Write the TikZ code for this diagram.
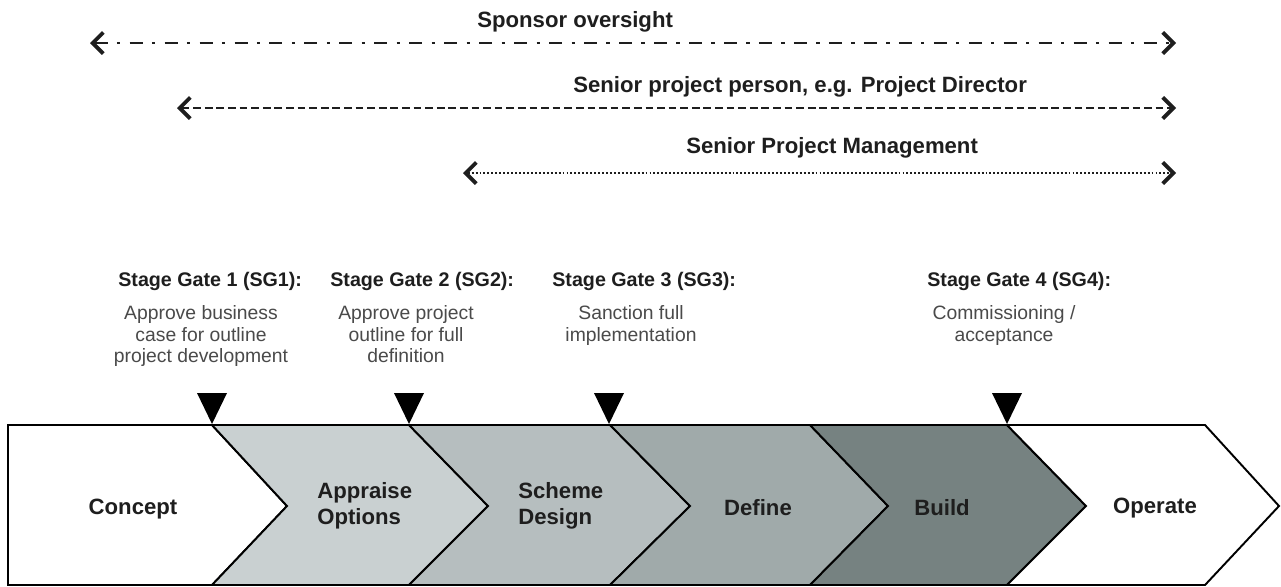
\documentclass[tikz,border=0pt]{standalone}
\usepackage{fontspec}
\setmainfont{Liberation Sans}
\usetikzlibrary{arrows.meta}
\definecolor{txt}{HTML}{1E1E1E}
\definecolor{desc}{HTML}{4A4A4A}
\definecolor{cAppraise}{RGB}{201,208,209}
\definecolor{cScheme}{RGB}{182,190,191}
\definecolor{cDefine}{RGB}{160,170,170}
\definecolor{cBuild}{RGB}{118,130,129}
\tikzset{
  spantip/.style={{Straight Barb[length=6pt,width=12pt,line width=2.2pt]}-{Straight Barb[length=6pt,width=12pt,line width=2.2pt]}},
  spanline/.style={spantip, line width=1.6pt, color=txt},
  toplabel/.style={font=\fontsize{12.6}{15}\selectfont\bfseries, text=txt, inner sep=0pt, anchor=west},
  gatehead/.style={font=\fontsize{11.2}{13}\selectfont\bfseries, text=txt, inner sep=0pt, anchor=west},
  gatedesc/.style={font=\fontsize{11}{12.4}\selectfont, text=desc, inner sep=0pt, align=center, anchor=north},
  stagebox/.style={draw=black, line width=1.1pt, line join=miter},
  stagelabel/.style={font=\fontsize{12.6}{15}\selectfont\bfseries, text=txt, inner sep=0pt, align=left},
  gatemark/.style={fill=black, draw=none},
}
\begin{document}
\begin{tikzpicture}[x=0.02cm,y=-0.02cm]
\useasboundingbox (0,0) rectangle (1281,586);
\fill[white] (0,0) rectangle (1281,586);

% span arrows
\coordinate (s1l) at (90,43);  \coordinate (s1r) at (1176,43);
\coordinate (s2l) at (177,108); \coordinate (s2r) at (1176,108);
\coordinate (s3l) at (463,173); \coordinate (s3r) at (1176,173);
\draw[spanline, dash pattern=on 7.4pt off 5.3pt on 1.9pt off 5.3pt] (s1l) -- (s1r);
\draw[spanline, dash pattern=on 4.4pt off 2.2pt] (s2l) -- (s2r);
\draw[spanline, line width=1.5pt, dash pattern=on 1.1pt off 1.15pt] (s3l) -- (s3r);
\node[toplabel] (lab1) at (477,22) {Sponsor oversight};
\node[toplabel] (lab2) at (573,87) {Senior project person, e.g. Project Director};
\node[toplabel] (lab3) at (686,148) {Senior Project Management};

% stage chevrons
\def\T{425}\def\B{585}\def\M{506}
\draw[stagebox, fill=white] (8,\T) -- (212,\T) -- (287,\M) -- (212,\B) -- (8,\B) -- cycle;
\draw[stagebox, fill=cAppraise] (212,\T) -- (409,\T) -- (488,\M) -- (409,\B) -- (212,\B) -- (287,\M) -- cycle;
\draw[stagebox, fill=cScheme] (409,\T) -- (610,\T) -- (690,\M) -- (610,\B) -- (409,\B) -- (488,\M) -- cycle;
\draw[stagebox, fill=cDefine] (610,\T) -- (810,\T) -- (888,\M) -- (810,\B) -- (610,\B) -- (690,\M) -- cycle;
\draw[stagebox, fill=cBuild] (810,\T) -- (1007,\T) -- (1086,\M) -- (1007,\B) -- (810,\B) -- (888,\M) -- cycle;
\draw[stagebox, fill=white] (1007,\T) -- (1205,\T) -- (1279,\M) -- (1205,\B) -- (1007,\B) -- (1086,\M) -- cycle;

\node[stagelabel] (concept) at (133,509) {Concept};
\node[stagelabel, anchor=west] (appraise) at (317,506) {Appraise\\[0pt]Options};
\node[stagelabel, anchor=west] (scheme) at (518,506) {Scheme\\[0pt]Design};
\node[stagelabel] (define) at (758,508) {Define};
\node[stagelabel] (build) at (942,508) {Build};
\node[stagelabel] (operate) at (1155,508) {Operate};

% gate markers
\foreach \gx/\gn in {212/g1, 409/g2, 609/g3, 1007/g4}{
  \coordinate (\gn) at (\gx,424);
  \fill[gatemark] (\gn) -- ++(-15,-31) -- ++(30,0) -- cycle;
}

% gate texts
\node[gatehead] (h1) at (118,281) {Stage Gate 1 (SG1):};
\node[gatehead] (h2) at (330,281) {Stage Gate 2 (SG2):};
\node[gatehead] (h3) at (552,281) {Stage Gate 3 (SG3):};
\node[gatehead] (h4) at (927,281) {Stage Gate 4 (SG4):};
\node[gatedesc] (d1) at (201,305) {Approve business\\case for outline\\project development};
\node[gatedesc] (d2) at (406,305) {Approve project\\outline for full\\definition};
\node[gatedesc] (d3) at (631,305) {Sanction full\\implementation};
\node[gatedesc] (d4) at (1004,305) {Commissioning /\\acceptance};
\end{tikzpicture}
\end{document}
